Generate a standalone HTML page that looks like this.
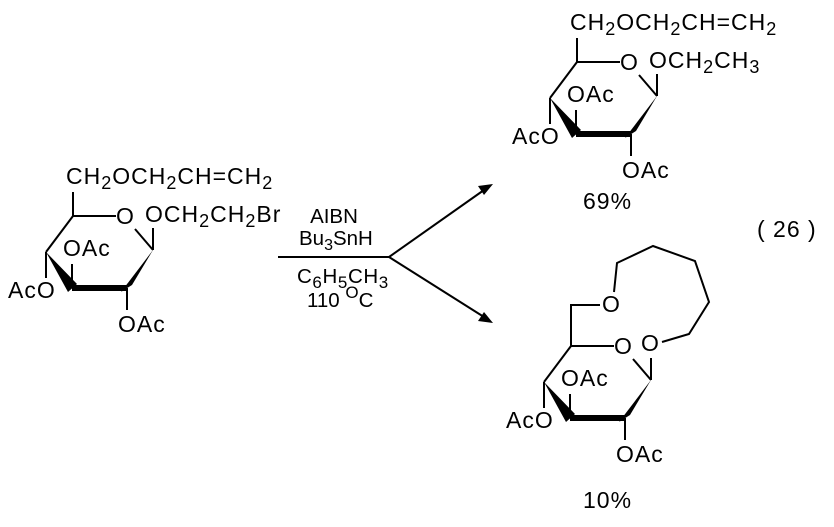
<!DOCTYPE html>
<html><head><meta charset="utf-8"><style>
html,body{margin:0;padding:0;background:#fff;}
</style></head><body>
<svg width="834" height="522" viewBox="0 0 834 522" xmlns="http://www.w3.org/2000/svg" font-family="Liberation Sans, Arial, sans-serif" font-size="23" fill="#000">

<!-- starting material -->
<g letter-spacing="1">
<g stroke="#000" stroke-width="2" fill="none">
<line x1="73" y1="216" x2="116" y2="216"/>
<line x1="135" y1="229" x2="153" y2="250"/>
<line x1="73" y1="216" x2="46" y2="252"/>
<line x1="72" y1="288" x2="72" y2="264"/>
<line x1="46" y1="252" x2="46" y2="278"/>
<line x1="127" y1="288" x2="127" y2="310"/>
<line x1="153" y1="250" x2="153" y2="228"/>
<line x1="73" y1="216" x2="73" y2="192"/>
<line x1="72" y1="288" x2="127" y2="288" stroke-width="6"/>
</g>
<polygon points="46,252 77,284 68,292" fill="#000" stroke="none"/>
<polygon points="121,292 132,285 153,250" fill="#000" stroke="none"/>
<text x="116" y="224">O</text>
<text x="63" y="256">OAc</text>
<text x="8" y="298">AcO</text>
<text x="118" y="332">OAc</text>
<text x="66" y="184">CH<tspan font-size="18" dy="5">2</tspan><tspan dy="-5">OCH</tspan><tspan font-size="18" dy="5">2</tspan><tspan dy="-5">CH=CH</tspan><tspan font-size="18" dy="5">2</tspan></text>
<text x="145" y="222">OCH<tspan font-size="18" dy="5">2</tspan><tspan dy="-5">CH</tspan><tspan font-size="18" dy="5">2</tspan><tspan dy="-5">Br</tspan></text>
</g>

<!-- arrows -->
<g stroke="#000" stroke-width="2">
<line x1="278" y1="257" x2="389" y2="257"/>
<line x1="389" y1="257" x2="484" y2="190"/>
<line x1="389" y1="257" x2="484" y2="317"/>
</g>
<polygon points="493,184 478,186 484,195" fill="#000"/>
<polygon points="493,323 478,321 484,312" fill="#000"/>
<text x="334" y="223" text-anchor="middle" font-size="20.5">AIBN</text>
<text x="299" y="245" font-size="20.5">Bu<tspan font-size="16" dy="5">3</tspan><tspan dy="-5">SnH</tspan></text>
<text x="297" y="283" font-size="20.5" letter-spacing="0.6">C<tspan font-size="17" dy="5">6</tspan><tspan dy="-5">H</tspan><tspan font-size="17" dy="5">5</tspan><tspan dy="-5">CH</tspan><tspan font-size="17" dy="5">3</tspan></text>
<text x="307" y="307" font-size="20.5">110 <tspan font-size="17" dy="-9">O</tspan><tspan dy="9">C</tspan></text>

<!-- top product -->
<g transform="translate(504,-154)" letter-spacing="1">
<g stroke="#000" stroke-width="2" fill="none">
<line x1="73" y1="216" x2="116" y2="216"/>
<line x1="135" y1="229" x2="153" y2="250"/>
<line x1="73" y1="216" x2="46" y2="252"/>
<line x1="72" y1="288" x2="72" y2="264"/>
<line x1="46" y1="252" x2="46" y2="278"/>
<line x1="127" y1="288" x2="127" y2="310"/>
<line x1="153" y1="250" x2="153" y2="228"/>
<line x1="73" y1="216" x2="73" y2="192"/>
<line x1="72" y1="288" x2="127" y2="288" stroke-width="6"/>
</g>
<polygon points="46,252 77,284 68,292" fill="#000"/>
<polygon points="121,292 132,285 153,250" fill="#000"/>
<text x="116" y="224">O</text>
<text x="63" y="256">OAc</text>
<text x="8" y="298">AcO</text>
<text x="118" y="332">OAc</text>
<text x="66" y="184">CH<tspan font-size="18" dy="5">2</tspan><tspan dy="-5">OCH</tspan><tspan font-size="18" dy="5">2</tspan><tspan dy="-5">CH=CH</tspan><tspan font-size="18" dy="5">2</tspan></text>
<text x="145" y="222">OCH<tspan font-size="18" dy="5">2</tspan><tspan dy="-5">CH</tspan><tspan font-size="18" dy="5">3</tspan></text>
</g>
<text x="583" y="209" letter-spacing="1">69%</text>

<text x="757" y="237" letter-spacing="1">( 26 )</text>

<!-- bottom product -->
<g transform="translate(498,130)" letter-spacing="1">
<g stroke="#000" stroke-width="2" fill="none">
<line x1="73" y1="216" x2="116" y2="216"/>
<line x1="135" y1="229" x2="153" y2="250"/>
<line x1="73" y1="216" x2="46" y2="252"/>
<line x1="72" y1="288" x2="72" y2="264"/>
<line x1="46" y1="252" x2="46" y2="278"/>
<line x1="127" y1="288" x2="127" y2="310"/>
<line x1="153" y1="250" x2="153" y2="228"/>
<line x1="72" y1="288" x2="127" y2="288" stroke-width="6"/>
</g>
<polygon points="46,252 77,284 68,292" fill="#000"/>
<polygon points="121,292 132,285 153,250" fill="#000"/>
<text x="116" y="224">O</text>
<text x="63" y="256">OAc</text>
<text x="8" y="298">AcO</text>
<text x="118" y="332">OAc</text>
</g>
<g stroke="#000" stroke-width="2" fill="none">
<polyline points="571,346 571,305 600,305"/>
<polyline points="614,292 617,263 653,246 695,261 709,302 689,334 662,342"/>
</g>
<text x="602" y="312">O</text>
<text x="641" y="351">O</text>
<text x="583" y="508" letter-spacing="1">10%</text>
</svg>
</body></html>
